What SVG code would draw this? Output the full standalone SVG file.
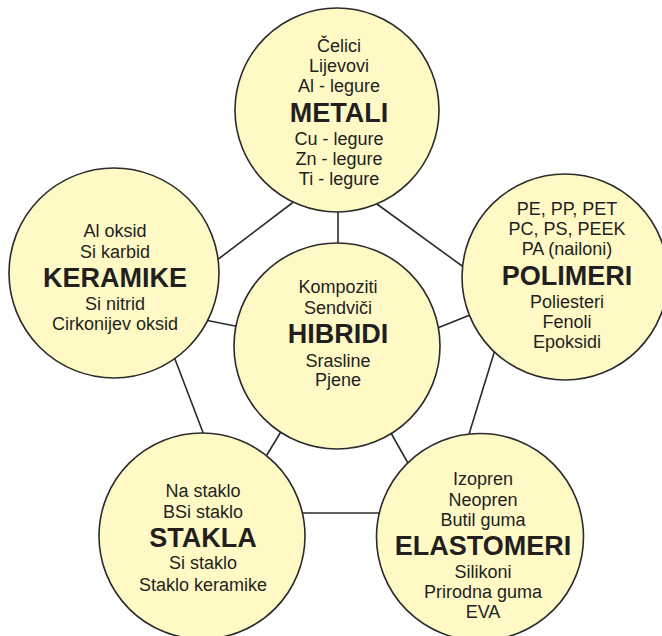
<svg xmlns="http://www.w3.org/2000/svg" width="662" height="636" viewBox="0 0 662 636">
<style>
.c{fill:#FFF9C6;stroke:#2b2b2b;stroke-width:1.6}
.l{stroke:#2b2b2b;stroke-width:1.6;fill:none}
text{font-family:"Liberation Sans",Arial,sans-serif;fill:#231F20;text-anchor:middle}
.t{font-size:18px}
.b{font-size:27px;font-weight:bold}
</style>
<rect width="662" height="636" fill="#fff"/>
<g id="connectors">
<line class="l" x1="300" y1="197" x2="200" y2="273"/>
<line class="l" x1="370" y1="199" x2="480" y2="279"/>
<line class="l" x1="338" y1="200" x2="338" y2="250"/>
<line class="l" x1="195" y1="318" x2="250" y2="329"/>
<line class="l" x1="170" y1="346" x2="207" y2="443"/>
<line class="l" x1="425" y1="333" x2="485" y2="309"/>
<line class="l" x1="498" y1="340" x2="466" y2="444"/>
<line class="l" x1="285" y1="425" x2="262" y2="463"/>
<line class="l" x1="387" y1="426" x2="413" y2="472"/>
<line class="l" x1="290" y1="513" x2="395" y2="513"/>
</g>
<g id="metali">
<circle class="c" cx="337" cy="110" r="102"/>
<text class="t" x="339" y="52">Čelici</text>
<text class="t" x="339" y="72">Lijevovi</text>
<text class="t" x="339" y="92">Al - legure</text>
<text class="b" x="339" y="122">METALI</text>
<text class="t" x="339" y="145">Cu - legure</text>
<text class="t" x="339" y="165">Zn - legure</text>
<text class="t" x="339" y="185">Ti - legure</text>
</g>
<g id="keramike">
<circle class="c" cx="114" cy="273" r="105"/>
<text class="t" x="115" y="237">Al oksid</text>
<text class="t" x="115" y="258">Si karbid</text>
<text class="b" x="115" y="287">KERAMIKE</text>
<text class="t" x="115" y="310">Si nitrid</text>
<text class="t" x="115" y="330">Cirkonijev oksid</text>
</g>
<g id="polimeri">
<circle class="c" cx="565" cy="277" r="103"/>
<text class="t" x="567" y="215">PE, PP, PET</text>
<text class="t" x="567" y="235">PC, PS, PEEK</text>
<text class="t" x="567" y="255">PA (nailoni)</text>
<text class="b" x="567" y="285">POLIMERI</text>
<text class="t" x="567" y="308">Poliesteri</text>
<text class="t" x="567" y="328">Fenoli</text>
<text class="t" x="567" y="348">Epoksidi</text>
</g>
<g id="hibridi">
<circle class="c" cx="337" cy="346" r="103"/>
<text class="t" x="338" y="293">Kompoziti</text>
<text class="t" x="338" y="314">Sendviči</text>
<text class="b" x="338" y="343">HIBRIDI</text>
<text class="t" x="338" y="367">Srasline</text>
<text class="t" x="338" y="386">Pjene</text>
</g>
<g id="stakla">
<circle class="c" cx="202" cy="536" r="103"/>
<text class="t" x="203" y="497">Na staklo</text>
<text class="t" x="203" y="518">BSi staklo</text>
<text class="b" x="203" y="547">STAKLA</text>
<text class="t" x="203" y="569">Si staklo</text>
<text class="t" x="203" y="591">Staklo keramike</text>
</g>
<g id="elastomeri">
<circle class="c" cx="480" cy="537" r="103.5"/>
<text class="t" x="483" y="485">Izopren</text>
<text class="t" x="483" y="506">Neopren</text>
<text class="t" x="483" y="526">Butil guma</text>
<text class="b" x="483" y="555">ELASTOMERI</text>
<text class="t" x="483" y="578">Silikoni</text>
<text class="t" x="483" y="598">Prirodna guma</text>
<text class="t" x="483" y="618">EVA</text>
</g>
</svg>
